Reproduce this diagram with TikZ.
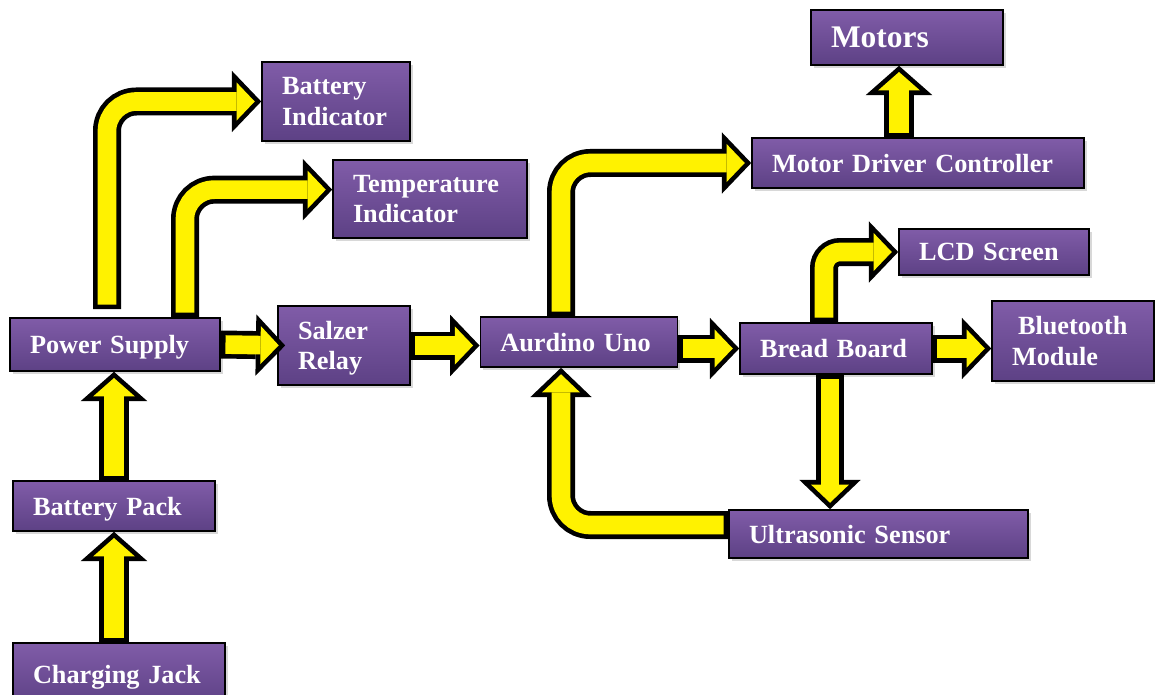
\documentclass[tikz,border=0pt]{standalone}
\usepackage{fontspec}
\setmainfont{Liberation Serif}
\usetikzlibrary{arrows.meta, shadows}

\definecolor{boxtop}{RGB}{128,92,168}
\definecolor{boxbottom}{RGB}{93,65,133}

\begin{document}
\begin{tikzpicture}[x=0.75pt, y=-0.75pt,
  block/.style={draw=black, line width=1.2pt, top color=boxtop, bottom color=boxbottom, text=white, font=\fontsize{19.7}{23}\selectfont\bfseries, align=left, inner xsep=15pt, inner ysep=0pt, text depth=0pt, drop shadow={shadow xshift=2pt, shadow yshift=-2pt, opacity=0.3}},
  flow/.style={preaction={draw=black, line width=21pt, shorten <=0pt, shorten >=0pt, -{Triangle[length=22pt, width=46pt, line width=0pt]}}, draw=yellow, line width=14pt, shorten <=3.5pt, shorten >=4.84pt, -{Triangle[length=13.66pt, width=28.6pt, line width=0pt]}, rounded corners=22pt},
  bigflow/.style={preaction={draw=black, line width=22.5pt, shorten <=0pt, shorten >=0pt, -{Triangle[length=22pt, width=50pt, line width=0pt]}}, draw=yellow, line width=15.5pt, shorten <=3.5pt, shorten >=4.66pt, -{Triangle[length=13.84pt, width=31.45pt, line width=0pt]}}]

  \useasboundingbox[fill=white] (0,0) rectangle (1155,695);

  % Define nodes
  \node[block, text width=114pt, minimum height=41.25pt, font=\fontsize{23.6}{28}\selectfont\bfseries] (motors) at (907,37.5) {Motors};
  \node[block, text width=81pt, minimum height=59.25pt, text depth=23pt] (batind) at (336,101.5) {Battery\\Indicator};
  \node[block, text width=115.5pt, minimum height=58.5pt, text depth=23pt] (tempind) at (430,199) {Temperature\\Indicator};
  \node[block, text width=219pt, minimum height=37.5pt] (motordrv) at (918,163) {Motor Driver Controller};
  \node[block, text width=112.5pt, minimum height=34.5pt] (lcd) at (994,252) {LCD Screen};
  \node[block, text width=91.5pt, minimum height=60pt, text depth=23pt] (bluetooth) at (1073,341) {\hspace*{4.5pt}Bluetooth\\Module};
  \node[block, text width=127.5pt, minimum height=39.75pt] (power) at (115,344.5) {Power Supply};
  \node[block, text width=69pt, minimum height=59.25pt, text depth=23pt] (salzer) at (344,345.5) {Salzer\\Relay};
  \node[block, text width=118pt, minimum height=37.5pt] (aurdino) at (579,342) {Aurdino Uno};
  \node[block, text width=114pt, minimum height=38.25pt] (bread) at (836,348.5) {Bread Board};
  \node[block, text width=121.5pt, minimum height=37.5pt] (batpack) at (114,506) {Battery Pack};
  \node[block, text width=194.25pt, minimum height=36pt] (ultra) at (878.5,534) {Ultrasonic Sensor};
  \node[block, text width=129pt, minimum height=46.5pt] (jack) at (119,674) {Charging Jack};

  % Define edges (yellow block arrows)
  \draw[flow] ([xshift=-6pt, yshift=6pt]power.north) |- (batind.west);
  \draw[flow] ([xshift=52.5pt]power.north) |- ([yshift=7pt]tempind.west);
  \draw[flow] (power.east) -- ([xshift=6pt]salzer.west);
  \draw[flow] (salzer.east) -- (salzer.east -| aurdino.west);
  \draw[flow] ([xshift=-13.5pt]aurdino.north) |- (motordrv.west);
  \draw[flow] (aurdino.east |- bread.west) -- (bread.west);
  \draw[flow, rounded corners=12pt] ([xshift=-9pt]bread.north) |- (lcd.west);
  \draw[flow] (bread.east) -- (bread.east -| bluetooth.west);
  \draw[flow] ([xshift=-4.5pt]bread.south) -- ([xshift=-4.5pt]bread.south |- ultra.north);
  \draw[flow] ([yshift=6.75pt]ultra.west) -| ([xshift=-13.5pt]aurdino.south);
  \draw[bigflow] (batpack.north) -- (batpack.north |- power.south);
  \draw[bigflow] (batpack.south |- jack.north) -- (batpack.south);
  \draw[bigflow] ([xshift=-6pt]motors.south |- motordrv.north) -- ([xshift=-6pt]motors.south);
\end{tikzpicture}
\end{document}
